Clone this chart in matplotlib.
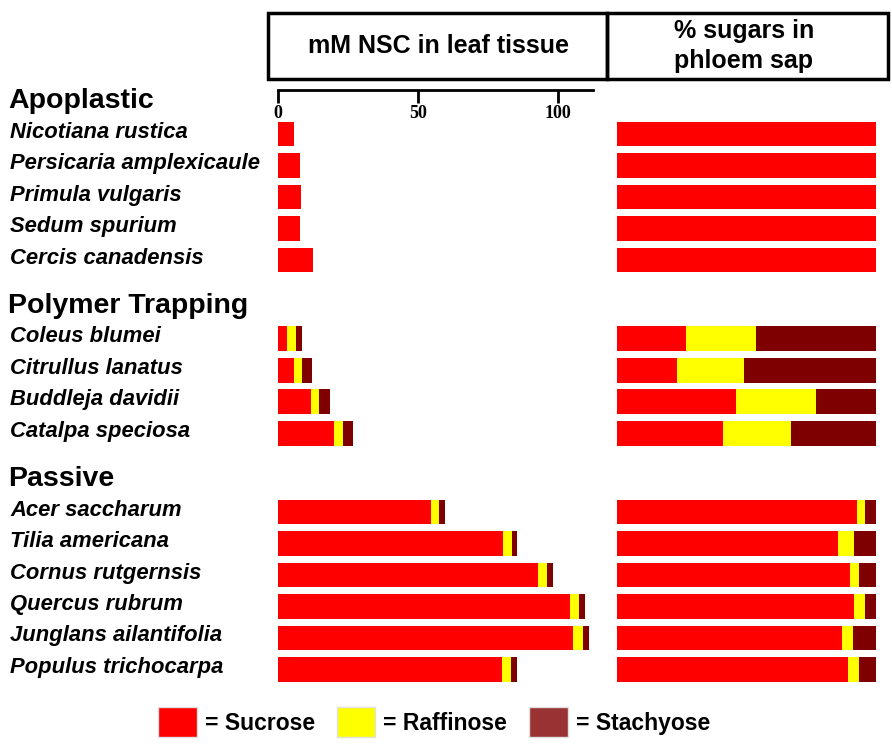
import matplotlib
matplotlib.use('Agg')
import matplotlib.pyplot as plt
from matplotlib.patches import Rectangle, Patch

# Dados
groups = ['Apoplastic', 'Polymer Trapping', 'Passive']
species = [
    ['Nicotiana rustica', 'Persicaria amplexicaule', 'Primula vulgaris',
     'Sedum spurium', 'Cercis canadensis'],
    ['Coleus blumei', 'Citrullus lanatus', 'Buddleja davidii', 'Catalpa speciosa'],
    ['Acer saccharum', 'Tilia americana', 'Cornus rutgernsis', 'Quercus rubrum',
     'Junglans ailantifolia', 'Populus trichocarpa'],
]

# mM NSC na folha (sacarose, rafinose, estaquiose)
nsc_sucrose = [5.7, 7.9, 8.2, 7.9, 12.5,
               3.2, 5.7, 11.8, 20.0,
               54.6, 80.4, 92.9, 104.3, 105.4, 80.0]
nsc_raffinose = [0, 0, 0, 0, 0,
                 3.2, 3.0, 3.0, 3.2,
                 2.9, 3.0, 3.2, 3.2, 3.4, 3.2]
nsc_stachyose = [0, 0, 0, 0, 0,
                 2.0, 3.6, 3.6, 3.6,
                 2.1, 2.1, 2.1, 2.1, 2.1, 2.1]

# % de açúcares na seiva do floema
pct_sucrose = [100, 100, 100, 100, 100,
               26.8, 23.0, 46.0, 41.0,
               92.6, 85.4, 90.0, 91.6, 87.0, 89.0]
pct_raffinose = [0, 0, 0, 0, 0,
                 26.8, 26.0, 31.0, 26.0,
                 3.2, 6.2, 3.3, 4.1, 4.1, 4.5]
pct_stachyose = [0, 0, 0, 0, 0,
                 46.4, 51.0, 23.0, 33.0,
                 4.2, 8.4, 6.7, 4.3, 8.9, 6.5]

ticks = [0, 50, 100]
legend_labels = ['= Sucrose', '= Raffinose', '= Stachyose']

RED = '#ff0000'
YEL = '#ffff00'
BRN = '#7f0000'

W, H = 892, 748
fx = lambda px: px / W
fy = lambda py: 1 - py / H

# Posições das linhas (unidade = uma linha), com espaço para os títulos de grupo
unit = 31.5
row0 = 134
gap = 1.5
ypos = []
header_y = []
i = 0
for g, sp in enumerate(species):
    header_y.append(i + g * gap - 1.05)
    for s in sp:
        ypos.append(i + g * gap)
        i += 1
labels = [s for sp in species for s in sp]
ylim = ((H - row0) / unit, (0 - row0) / unit)

fig = plt.figure(figsize=(W / 100, H / 100), dpi=100)

# Painel esquerdo: mM NSC
px_per_unit = 2.8
x0 = 278
axL = fig.add_axes([fx(x0), 0, fx(600) - fx(x0), 1])
axL.set_xlim(0, (600 - x0) / px_per_unit)
axL.set_ylim(*ylim)
h = 0.79
axL.barh(ypos, nsc_sucrose, height=h, color=RED)
left = nsc_sucrose
axL.barh(ypos, nsc_raffinose, height=h, left=left, color=YEL)
left = [a + b for a, b in zip(nsc_sucrose, nsc_raffinose)]
axL.barh(ypos, nsc_stachyose, height=h, left=left, color=BRN)
for s in ['top', 'left', 'right']:
    axL.spines[s].set_visible(False)
axL.spines['bottom'].set_position(('data', (90 - row0) / unit))
axL.spines['bottom'].set_bounds(0, (593 - x0) / px_per_unit)
axL.spines['bottom'].set_linewidth(2)
axL.set_xticks(ticks)
axL.set_yticks([])
axL.tick_params(axis='x', direction='out', length=9.5, width=2, pad=1)
for t in axL.get_xticklabels():
    t.set_fontfamily('Liberation Serif')
    t.set_fontweight('bold')
    t.set_fontsize(13)
axL.patch.set_visible(False)

# Painel direito: % no floema
axR = fig.add_axes([fx(617), 0, fx(876) - fx(617), 1])
axR.set_xlim(0, 100)
axR.set_ylim(*ylim)
axR.barh(ypos, pct_sucrose, height=h, color=RED)
axR.barh(ypos, pct_raffinose, height=h, left=pct_sucrose, color=YEL)
left = [a + b for a, b in zip(pct_sucrose, pct_raffinose)]
axR.barh(ypos, pct_stachyose, height=h, left=left, color=BRN)
axR.axis('off')

# Rótulos
for y, lab in zip(ypos, labels):
    fig.text(fx(10), fy(row0 - 2 + y * unit), lab, ha='left', va='center',
             fontsize=15.8, fontweight='bold', fontstyle='italic',
             family='Liberation Sans')
for y, g in zip(header_y, groups):
    fig.text(fx(8), fy(row0 + y * unit), g, ha='left', va='center',
             fontsize=20.5, fontweight='bold', family='Liberation Sans')

# Caixas do cabeçalho
fig.patches.append(Rectangle((fx(268), fy(79)), fx(607) - fx(268), fy(13) - fy(79),
                             transform=fig.transFigure, fill=False, lw=2.5, ec='black'))
fig.patches.append(Rectangle((fx(607), fy(79)), fx(888) - fx(607), fy(13) - fy(79),
                             transform=fig.transFigure, fill=False, lw=2.5, ec='black'))
fig.text(fx(439), fy(46), 'mM NSC in leaf tissue', ha='center', va='center',
         fontsize=18, fontweight='bold', family='Liberation Sans')
fig.text(fx(744), fy(46), '% sugars in\nphloem sap', ha='center', va='center',
         fontsize=18, fontweight='bold', family='Liberation Sans', linespacing=1.3)

# Legenda
handles = [Patch(fc=RED, ec='#e0e0e0'), Patch(fc=YEL, ec='#e0e0e0'),
           Patch(fc='#993333', ec='#e0e0e0')]
fig.legend(handles, legend_labels, loc='center', bbox_to_anchor=(fx(434), fy(722)),
           ncol=3, frameon=False, handlelength=1.7, handleheight=1.6,
           handletextpad=0.35, columnspacing=0.95,
           prop={'family': 'Liberation Sans', 'weight': 'bold', 'size': 16.5})

fig.savefig('out.png', dpi=100)
